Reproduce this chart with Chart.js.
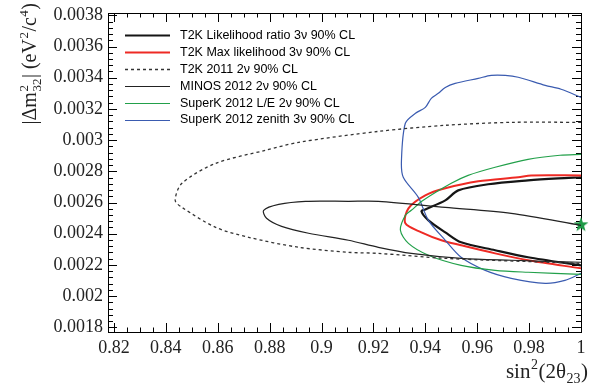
<!DOCTYPE html>
<html>
<head><meta charset="utf-8"><title>Contornos 90% CL</title>
<script src="https://cdn.jsdelivr.net/npm/chart.js"></script>
<style> html,body{margin:0;padding:0;background:#fff;} canvas{display:block;} </style>
</head>
<body>
<canvas id="c" width="590" height="389"></canvas>
<script>
// ticks
const xTicks = [0.82, 0.84, 0.86, 0.88, 0.9, 0.92, 0.94, 0.96, 0.98, 1.0];
const yTicks = [0.0018, 0.002, 0.0022, 0.0024, 0.0026, 0.0028, 0.003, 0.0032, 0.0034, 0.0036, 0.0038];

// contornos (sin2, dm2)
const t2kLrX = [1.0, 0.9912, 0.9796, 0.9642, 0.9527, 0.9477, 0.94, 0.9385, 0.9412, 0.9477, 0.9538, 0.9669, 0.9796, 1.0];
const t2kLrY = [0.002762, 0.002755, 0.002742, 0.002717, 0.002678, 0.002614, 0.002556, 0.002544, 0.002486, 0.002409, 0.002345, 0.002294, 0.002249, 0.002197];

const t2kMlX = [1.0, 0.9808, 0.9758, 0.9604, 0.9477, 0.94, 0.9335, 0.9323, 0.9385, 0.9462, 0.9538, 0.9669, 0.9796, 1.0];
const t2kMlY = [0.002774, 0.002774, 0.002762, 0.002736, 0.002691, 0.002646, 0.002563, 0.002467, 0.002409, 0.002358, 0.002326, 0.002274, 0.00223, 0.002178];

const t2k11X = [1.0, 0.9731, 0.9477, 0.9219, 0.8912, 0.8785, 0.8592, 0.8462, 0.8436, 0.8462, 0.8592, 0.8719, 0.8912, 0.9104, 0.9219, 0.9477, 1.0];
const t2k11Y = [0.003114, 0.003114, 0.003095, 0.003056, 0.002986, 0.002935, 0.002851, 0.002723, 0.002614, 0.002569, 0.002441, 0.002377, 0.002313, 0.002281, 0.002274, 0.002242, 0.00221];

const minosX = [1.0, 0.9731, 0.9477, 0.9219, 0.9104, 0.8938, 0.8835, 0.8777, 0.8788, 0.8846, 0.895, 0.9104, 0.9219, 0.9346, 0.9538, 0.9731, 1.0];
const minosY = [0.002454, 0.002531, 0.002569, 0.002608, 0.002608, 0.002608, 0.002588, 0.00255, 0.002499, 0.002447, 0.002403, 0.002358, 0.002313, 0.002274, 0.002242, 0.00223, 0.002217];

const skLeX = [1.0, 0.9919, 0.9796, 0.9669, 0.9565, 0.95, 0.9392, 0.9346, 0.9323, 0.9304, 0.9335, 0.9412, 0.9538, 0.9669, 0.9796, 1.0];
const skLeY = [0.002909, 0.002903, 0.002877, 0.002826, 0.002774, 0.002723, 0.002614, 0.00255, 0.002518, 0.002422, 0.002338, 0.002262, 0.002197, 0.002165, 0.002153, 0.00214];

const skZenX = [1.0, 0.9923, 0.9862, 0.9758, 0.9708, 0.9654, 0.9604, 0.9515, 0.9477, 0.945, 0.9423, 0.94, 0.9362, 0.9323, 0.9308, 0.9315, 0.9373, 0.9412, 0.9477, 0.9538, 0.9631, 0.9731, 0.9862, 0.9938, 1.0];
const skZenY = [0.003274, 0.003326, 0.003351, 0.003403, 0.003415, 0.003415, 0.003396, 0.003364, 0.003338, 0.0033, 0.003268, 0.00321, 0.003172, 0.003108, 0.00287, 0.002762, 0.002633, 0.002486, 0.002358, 0.002249, 0.002165, 0.002114, 0.002082, 0.002101, 0.002146];

// mejor ajuste
const bestX = [1.0];
const bestY = [0.00246];

function pts(xs, ys) { return xs.map((x, i) => ({x: x, y: ys[i]})); }

// estrella rellena
const star = document.createElement('canvas');
star.width = 16; star.height = 16;
(function () {
  const g = star.getContext('2d');
  g.fillStyle = '#1f9a47';
  g.beginPath();
  for (let i = 0; i < 10; i++) {
    const r = i % 2 ? 3.2 : 7.8;
    const a = -Math.PI / 2 + i * Math.PI / 5;
    g.lineTo(8 + r * Math.cos(a), 8.5 + r * Math.sin(a));
  }
  g.closePath(); g.fill();
})();

function line(label, xs, ys, color, w, dash) {
  return { label: label, data: pts(xs, ys), showLine: true, fill: false,
           borderColor: color, borderWidth: w, borderDash: dash || [],
           pointRadius: 0, tension: 0.3 };
}

const datasets = [
  line('T2K 2011 2\u03bd 90% CL', t2k11X, t2k11Y, '#333', 1.3, [3, 3]),
  line('MINOS 2012 2\u03bd 90% CL', minosX, minosY, '#222', 1.2),
  line('SuperK 2012 L/E 2\u03bd 90% CL', skLeX, skLeY, '#22a04a', 1.2),
  line('SuperK 2012 zenith 3\u03bd 90% CL', skZenX, skZenY, '#3a5bb0', 1.2),
  line('T2K Max likelihood 3\u03bd 90% CL', t2kMlX, t2kMlY, '#ee2a24', 2),
  line('T2K Likelihood ratio 3\u03bd 90% CL', t2kLrX, t2kLrY, '#151515', 2.2),
  { label: 'best', data: pts(bestX, bestY), pointStyle: star, pointRadius: 8, clip: false, showLine: false }
];
const legendOrder = [5, 4, 0, 1, 2, 3];

// texto con super/subindices
function richWidth(ctx, segs, size) {
  let w = 0;
  segs.forEach(s => {
    if (s.n !== undefined) { ctx.font = size + 'px "Liberation Serif"'; w += ctx.measureText(s.n).width; }
    else {
      ctx.font = Math.round(size * 0.65) + 'px "Liberation Serif"';
      w += Math.max(s.sup ? ctx.measureText(s.sup).width : 0, s.sub ? ctx.measureText(s.sub).width : 0) + 1;
    }
  });
  return w;
}
function richDraw(ctx, segs, size, x, y) {
  segs.forEach(s => {
    if (s.n !== undefined) {
      ctx.font = size + 'px "Liberation Serif"';
      ctx.fillText(s.n, x, y); x += ctx.measureText(s.n).width;
    } else {
      ctx.font = Math.round(size * 0.65) + 'px "Liberation Serif"';
      let w = 0;
      if (s.sup) { ctx.fillText(s.sup, x + 0.5, y - size * 0.42); w = ctx.measureText(s.sup).width; }
      if (s.sub) { ctx.fillText(s.sub, x + 0.5, y + size * 0.25); w = Math.max(w, ctx.measureText(s.sub).width); }
      x += w + 1;
    }
  });
}

const yTitle = [{n: '|\u0394m'}, {sup: '2', sub: '32'}, {n: '| (eV'}, {sup: '2'}, {n: '/c'}, {sup: '4'}, {n: ')'}];
const xTitle = [{n: 'sin'}, {sup: '2'}, {n: '(2\u03b8'}, {sub: '23'}, {n: ')'}];

const rootFrame = {
  id: 'rootFrame',
  beforeDatasetsDraw(chart) {
    const {ctx, chartArea: a, scales: {x, y}} = chart;
    ctx.save();
    ctx.strokeStyle = '#000'; ctx.lineWidth = 1;
    ctx.strokeRect(a.left + 0.5, a.top + 0.5, a.right - a.left, a.bottom - a.top);
    ctx.beginPath();
    for (let k = Math.ceil(x.min / 0.005 - 1e-6); k * 0.005 <= x.max + 1e-9; k++) {
      const v = k * 0.005, px = Math.round(x.getPixelForValue(v)) + 0.5;
      const len = (k % 4 === 0) ? 9 : 4.5;
      ctx.moveTo(px, a.bottom); ctx.lineTo(px, a.bottom - len);
      ctx.moveTo(px, a.top); ctx.lineTo(px, a.top + len);
    }
    for (let k = Math.ceil(y.min / 0.00004 - 1e-6); k * 0.00004 <= y.max + 1e-12; k++) {
      const v = k * 0.00004, py = Math.round(y.getPixelForValue(v)) + 0.5;
      const len = (k % 5 === 0) ? 9 : 5;
      ctx.moveTo(a.left, py); ctx.lineTo(a.left + len, py);
      ctx.moveTo(a.right, py); ctx.lineTo(a.right - len, py);
    }
    ctx.stroke();
    ctx.restore();
  },
  afterDraw(chart) {
    const ctx = chart.ctx;
    ctx.save();
    ctx.fillStyle = '#222'; ctx.textBaseline = 'alphabetic';
    // eje x
    const wx = richWidth(ctx, xTitle, 21);
    richDraw(ctx, xTitle, 21, 588 - wx, 378);
    // eje y
    const wy = richWidth(ctx, yTitle, 20);
    ctx.translate(36, 3 + wy);
    ctx.rotate(-Math.PI / 2);
    richDraw(ctx, yTitle, 20, 0, 0);
    ctx.restore();

    // leyenda
    ctx.save();
    ctx.font = '12.5px "Liberation Sans"';
    ctx.textBaseline = 'middle';
    legendOrder.forEach((di, i) => {
      const ds = chart.data.datasets[di];
      const yy = 35 + i * 16.9;
      ctx.strokeStyle = ds.borderColor; ctx.lineWidth = ds.borderWidth;
      ctx.setLineDash(ds.borderDash);
      ctx.beginPath(); ctx.moveTo(125, Math.round(yy) + 0.5); ctx.lineTo(170, Math.round(yy) + 0.5); ctx.stroke();
      ctx.setLineDash([]);
      ctx.fillStyle = '#000';
      ctx.fillText(ds.label, 180, yy + 0.5);
    });
    ctx.restore();
  }
};

const fmt = v => String(parseFloat(v.toFixed(5)));

new Chart(document.getElementById('c'), {
  type: 'scatter',
  data: { datasets: datasets },
  options: {
    responsive: false, animation: false, devicePixelRatio: 1,
    layout: { padding: { top: 13, right: 6, bottom: 0, left: 0 } },
    plugins: { legend: { display: false }, tooltip: { enabled: false } },
    scales: {
      x: {
        type: 'linear', min: 0.8177, max: 1.0,
        afterBuildTicks: s => { s.ticks = xTicks.map(v => ({value: v})); },
        afterFit: s => { s.height = 57; s.paddingLeft = 0; s.paddingRight = 0; },
        grid: { display: false, drawTicks: false },
        border: { display: false },
        ticks: { padding: 5, color: '#222', font: { family: 'Liberation Serif', size: 18 },
                 maxRotation: 0, autoSkip: false, callback: v => fmt(v) }
      },
      y: {
        type: 'linear', min: 0.00177, max: 0.003815,
        afterBuildTicks: s => { s.ticks = yTicks.map(v => ({value: v})); },
        afterFit: s => { s.width = 108; s.paddingTop = 0; s.paddingBottom = 0; },
        grid: { display: false, drawTicks: false },
        border: { display: false },
        ticks: { padding: 5, color: '#222', font: { family: 'Liberation Serif', size: 18 },
                 autoSkip: false, callback: v => fmt(v) }
      }
    }
  },
  plugins: [rootFrame]
});
</script>
</body>
</html>
